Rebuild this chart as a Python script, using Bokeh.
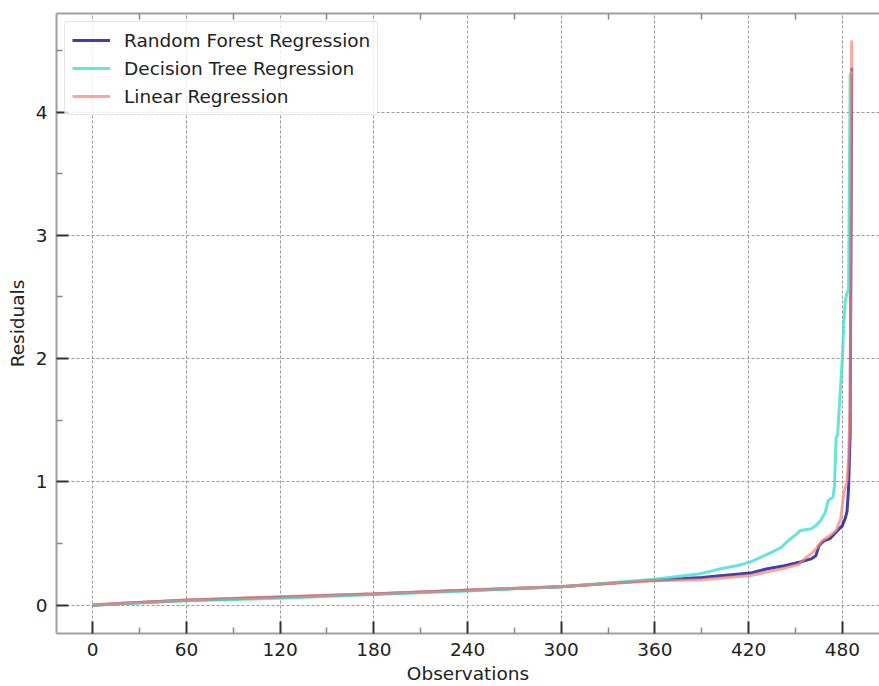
from bokeh.plotting import figure
from bokeh.models import Range1d, FixedTicker, LinearAxis, Legend, LegendItem
from bokeh.embed import file_html
from bokeh.resources import INLINE

rf_x = [0, 20, 60, 120, 180, 240, 300, 360, 390, 421, 432, 443, 453, 460, 463,
        465, 468, 472, 474, 477, 480, 482, 483, 484, 485, 486]
rf_y = [0.0, 0.015, 0.04, 0.065, 0.09, 0.12, 0.15, 0.203, 0.225, 0.26, 0.295,
        0.32, 0.35, 0.375, 0.40, 0.48, 0.52, 0.54, 0.565, 0.605, 0.645, 0.71,
        0.76, 0.95, 1.4, 4.36]

dt_x = [0, 60, 120, 180, 240, 300, 360, 389, 396, 402, 413, 421, 428, 435, 441,
        445, 451, 453, 460, 463, 466, 469, 471, 474, 475, 476, 477, 478, 479,
        480, 481, 482, 483, 484, 485, 486]
dt_y = [0.0, 0.035, 0.055, 0.086, 0.115, 0.15, 0.21, 0.255, 0.276, 0.295,
        0.322, 0.349, 0.39, 0.43, 0.47, 0.52, 0.58, 0.605, 0.62, 0.645, 0.685,
        0.75, 0.85, 0.875, 0.97, 1.36, 1.38, 1.6, 1.8, 2.0, 2.3, 2.48, 2.53,
        2.56, 4.30, 4.33]

lr_x = [0, 60, 120, 180, 240, 300, 360, 390, 421, 432, 443, 452, 457, 460, 464,
        467, 472, 476, 479, 480, 481, 483, 484, 485, 486]
lr_y = [0.003, 0.042, 0.068, 0.093, 0.123, 0.152, 0.197, 0.207, 0.24, 0.27,
        0.30, 0.33, 0.39, 0.415, 0.47, 0.52, 0.565, 0.605, 0.70, 0.81, 0.915,
        1.0, 1.2, 1.6, 4.58]

x_major = [0, 60, 120, 180, 240, 300, 360, 420, 480]
x_minor = [30, 90, 150, 210, 270, 330, 390, 450, 510]
y_major = [0, 1, 2, 3, 4]
y_minor = [0.5, 1.5, 2.5, 3.5, 4.5]

FONT = "DejaVu Sans"
FS = "18.5px"
TXT = "#222222"

p = figure(width=879, height=686, output_backend="svg", toolbar_location=None,
           x_range=Range1d(-23.2, 503.8), y_range=Range1d(-0.23, 4.80),
           min_border_left=56, min_border_right=0, min_border_top=13,
           min_border_bottom=51, x_axis_label="Observations",
           y_axis_label="Residuals")
p.outline_line_color = None
p.background_fill_color = "white"
p.border_fill_color = "white"

r1 = p.line(rf_x, rf_y, line_color="#00008B", line_alpha=0.75, line_width=3)
r2 = p.line(dt_x, dt_y, line_color="#40E0D0", line_alpha=0.8, line_width=3)
r3 = p.line(lr_x, lr_y, line_color="#FA8072", line_alpha=0.7, line_width=3)

def style_axis(ax):
    ax.axis_line_color = "#a0a0a0"
    ax.axis_line_width = 2
    ax.major_tick_in = 12
    ax.major_tick_out = 0
    ax.minor_tick_in = 6
    ax.minor_tick_out = 0
    ax.major_tick_line_color = "#333333"
    ax.major_tick_line_width = 2
    ax.minor_tick_line_color = "#888888"
    ax.minor_tick_line_width = 1.5
    ax.major_label_text_font = FONT
    ax.major_label_text_font_size = FS
    ax.major_label_text_color = TXT
    ax.axis_label_text_font = FONT
    ax.axis_label_text_font_size = FS
    ax.axis_label_text_font_style = "normal"
    ax.axis_label_text_color = TXT

xa = p.xaxis[0]
xa.ticker = FixedTicker(ticks=x_major, minor_ticks=x_minor)
style_axis(xa)
xa.major_label_standoff = 9
xa.axis_label_standoff = 4

ya = p.yaxis[0]
ya.ticker = FixedTicker(ticks=y_major, minor_ticks=y_minor)
style_axis(ya)
ya.major_label_standoff = 9
ya.axis_label_standoff = 5

top = LinearAxis(ticker=FixedTicker(ticks=[], minor_ticks=x_minor))
style_axis(top)
top.major_label_standoff = 0
p.add_layout(top, "above")

for g, tk in ((p.xgrid[0], x_major), (p.ygrid[0], y_major)):
    g.ticker = FixedTicker(ticks=tk)
    g.grid_line_color = "#9a9a9a"
    g.grid_line_width = 1
    g.grid_line_dash = "3 2"

legend = Legend(items=[
    LegendItem(label="Random Forest Regression", renderers=[r1]),
    LegendItem(label="Decision Tree Regression", renderers=[r2]),
    LegendItem(label="Linear Regression", renderers=[r3]),
], location="top_left")
legend.margin = 8
legend.padding = 7
legend.spacing = 6
legend.label_height = 22
legend.glyph_height = 22
legend.glyph_width = 38
legend.label_standoff = 14
legend.label_text_font = FONT
legend.label_text_font_size = FS
legend.label_text_color = TXT
legend.border_line_color = "#cccccc"
legend.border_line_width = 1
legend.border_radius = 4
legend.background_fill_alpha = 0.8
p.add_layout(legend)

open("out.html", "w").write(file_html(p, INLINE))
